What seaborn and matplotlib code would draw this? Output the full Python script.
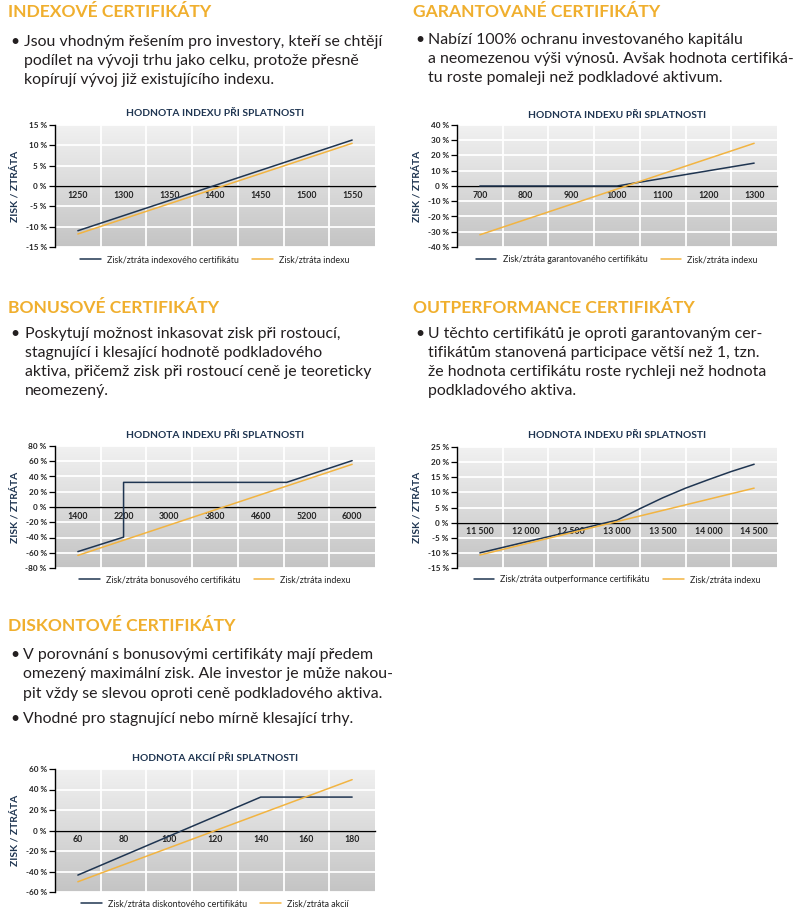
import numpy as np
import pandas as pd
import matplotlib
matplotlib.use("Agg")
import matplotlib.pyplot as plt
import seaborn as sns
from matplotlib.colors import LinearSegmentedColormap

sns.set_style("white")
plt.rcParams['font.family'] = ['Lato', 'DejaVu Sans']

W, H = 798, 913
NAVY = "#1f3551"
ORANGE = "#f2b441"
HEAD = "#f0af2e"
TEXT = "#231f20"

# ---------------- data ----------------
# 1 Indexové certifikáty
idx_ticks = [1250, 1300, 1350, 1400, 1450, 1500, 1550]
idx_yticks = [-15, -10, -5, 0, 5, 10, 15]
idx_cert_x = [1250, 1550]
idx_cert_y = [-11.0, 11.3]
idx_index_x = [1250, 1550]
idx_index_y = [-11.8, 10.5]

# 2 Garantované certifikáty
gar_ticks = [700, 800, 900, 1000, 1100, 1200, 1300]
gar_yticks = [-40, -30, -20, -10, 0, 10, 20, 30, 40]
gar_cert_x = [700, 1000, 1300]
gar_cert_y = [0.0, 0.0, 15.0]
gar_index_x = [700, 1300]
gar_index_y = [-32.0, 28.0]

# 3 Bonusové certifikáty
bon_ticks = [1400, 2200, 3000, 3800, 4600, 5200, 6000]
bon_yticks = [-80, -60, -40, -20, 0, 20, 40, 60, 80]
bon_cert_x = [1400, 2200, 2200, 4940, 6000]
bon_cert_y = [-58.5, -39.5, 32.3, 32.3, 60.8]
bon_index_x = [1400, 6000]
bon_index_y = [-63.5, 56.0]

# 4 Outperformance certifikáty
out_ticks = [11500, 12000, 12500, 13000, 13500, 14000, 14500]
out_yticks = [-15, -10, -5, 0, 5, 10, 15, 20, 25]
out_cert_x = [11500, 12000, 12500, 12800, 13000, 13250, 13500, 13750,
              14000, 14250, 14500]
out_cert_y = [-10.0, -6.4, -2.9, -0.6, 0.8, 4.6, 8.2, 11.4, 14.2, 16.9, 19.3]
out_index_x = [11500, 14500]
out_index_y = [-10.7, 11.4]

# 5 Diskontové certifikáty
dis_ticks = [60, 80, 100, 120, 140, 160, 180]
dis_yticks = [-60, -40, -20, 0, 20, 40, 60]
dis_cert_x = [60, 140, 180]
dis_cert_y = [-43.5, 32.6, 32.6]
dis_index_x = [60, 180]
dis_index_y = [-50.0, 49.6]

# ---------------- figure ----------------
fig = plt.figure(figsize=(W / 100, H / 100), dpi=100)
fig.patch.set_facecolor("white")

bg_cmap = LinearSegmentedColormap.from_list("bg", ["#f1f1f1", "#c4c4c4"])


def fx(x):
    return x / W


def fy(y):
    return 1 - y / H


def tick_label(v):
    if v >= 10000:
        return f"{v:,}".replace(",", " ")
    return str(v)


def draw_chart(left, top, bottom, ticks, yticks, cx, cy, ix, iy,
               title, title_y, cert_label, ind_label, legend_y, ylab_x):
    width = 320
    ax = fig.add_axes([fx(left), fy(bottom), fx(width), (bottom - top) / H])
    n = len(ticks)
    pos_c = np.interp(cx, ticks, np.arange(n))
    pos_i = np.interp(ix, ticks, np.arange(n))
    df = pd.DataFrame({
        "pos": np.concatenate([pos_c, pos_i]),
        "val": np.concatenate([cy, iy]),
        "series": [cert_label] * len(cx) + [ind_label] * len(ix),
    })
    ax.imshow(np.linspace(0, 1, 256).reshape(-1, 1), cmap=bg_cmap,
              aspect="auto", extent=[0, 1, 0, 1], transform=ax.transAxes,
              zorder=0, interpolation="bicubic")
    sns.lineplot(data=df, x="pos", y="val", hue="series",
                 hue_order=[cert_label, ind_label],
                 palette=[NAVY, ORANGE], sort=False, estimator=None,
                 linewidth=1.1, ax=ax, zorder=3)
    ax.set_xlim(-0.5, n - 0.5)
    ax.set_ylim(min(yticks), max(yticks))
    ax.set_xlabel("")
    ax.set_ylabel("")
    ax.spines["bottom"].set_position(("data", 0))
    ax.spines["bottom"].set_color("black")
    ax.spines["bottom"].set_linewidth(1.0)
    ax.spines["left"].set_color("black")
    ax.spines["left"].set_linewidth(1.0)
    ax.spines["top"].set_visible(False)
    ax.spines["right"].set_visible(False)
    ax.set_xticks(np.arange(n))
    ax.set_xticklabels([tick_label(t) for t in ticks], fontsize=6.3,
                       fontweight="bold", color="#222222")
    ax.set_xticks(np.arange(0.5, n - 1, 1), minor=True)
    ax.tick_params(axis="x", which="both", length=0, pad=3.5)
    ax.set_yticks(yticks)
    ax.set_yticklabels([f"{v} %" for v in yticks], fontsize=5.9,
                       fontweight="bold", color="#222222")
    ax.tick_params(axis="y", length=4, width=0.9, color="black", pad=2,
                   left=True)
    ax.grid(False)
    ax.grid(which="minor", axis="x", color="white", linewidth=1.3)
    ax.grid(which="major", axis="y", color="white", linewidth=1.3)
    ax.set_axisbelow(True)
    fig.text(fx(left + width / 2), fy(title_y), title, ha="center",
             va="center", fontsize=7.4, color=NAVY, fontweight="bold")
    fig.text(fx(ylab_x), fy((top + bottom) / 2), "ZISK / ZTRÁTA",
             rotation=90, ha="center", va="center", fontsize=7.4,
             color=NAVY, fontweight="bold")
    handles, labels = ax.get_legend_handles_labels()
    if ax.get_legend() is not None:
        ax.get_legend().remove()
    leg = ax.legend(handles, labels, loc="center", ncol=2,
                    bbox_to_anchor=(fx(left + width / 2), fy(legend_y)),
                    bbox_transform=fig.transFigure, frameon=False,
                    fontsize=6.4, handlelength=2.3, handletextpad=0.7,
                    columnspacing=1.5)
    for t in leg.get_texts():
        t.set_color("#222222")
    return ax


draw_chart(55, 125, 247, idx_ticks, idx_yticks, idx_cert_x, idx_cert_y,
           idx_index_x, idx_index_y, "HODNOTA INDEXU PŘI SPLATNOSTI", 114,
           "Zisk/ztráta indexového certifikátu", "Zisk/ztráta indexu", 260, 15)
draw_chart(457, 125, 247, gar_ticks, gar_yticks, gar_cert_x, gar_cert_y,
           gar_index_x, gar_index_y, "HODNOTA INDEXU PŘI SPLATNOSTI", 115,
           "Zisk/ztráta garantovaného certifikátu", "Zisk/ztráta indexu", 260, 417)
draw_chart(55, 446, 568, bon_ticks, bon_yticks, bon_cert_x, bon_cert_y,
           bon_index_x, bon_index_y, "HODNOTA INDEXU PŘI SPLATNOSTI", 435,
           "Zisk/ztráta bonusového certifikátu", "Zisk/ztráta indexu", 580, 15)
draw_chart(457, 447, 568, out_ticks, out_yticks, out_cert_x, out_cert_y,
           out_index_x, out_index_y, "HODNOTA INDEXU PŘI SPLATNOSTI", 435,
           "Zisk/ztráta outperformance certifikátu", "Zisk/ztráta indexu", 580, 417)
draw_chart(55, 769, 892, dis_ticks, dis_yticks, dis_cert_x, dis_cert_y,
           dis_index_x, dis_index_y, "HODNOTA AKCIÍ PŘI SPLATNOSTI", 758,
           "Zisk/ztráta diskontového certifikátu", "Zisk/ztráta akcií", 904, 15)

# ---------------- text blocks ----------------
HEAD_SIZE = 12.6
BODY_SIZE = 11.4


def heading(x, y, s):
    fig.text(fx(x), fy(y), s, ha="left", va="baseline", fontsize=HEAD_SIZE,
             color=HEAD, fontweight="bold")


def body(xb, xt, ys, lines, bullets):
    for y, line, b in zip(ys, lines, bullets):
        if b:
            fig.text(fx(xb), fy(y), "•", ha="left", va="baseline",
                     fontsize=BODY_SIZE, color=TEXT)
        fig.text(fx(xt), fy(y), line, ha="left", va="baseline",
                 fontsize=BODY_SIZE, color=TEXT)


heading(8, 17, "INDEXOVÉ CERTIFIKÁTY")
body(10, 24, [46, 65, 84],
     ["Jsou vhodným řešením pro investory, kteří se chtějí",
      "podílet na vývoji trhu jako celku, protože přesně",
      "kopírují vývoj již existujícího indexu."],
     [True, False, False])

heading(413, 17, "GARANTOVANÉ CERTIFIKÁTY")
body(415, 428, [44, 63, 82],
     ["Nabízí 100% ochranu investovaného kapitálu",
      "a neomezenou výši výnosů. Avšak hodnota certifiká-",
      "tu roste pomaleji než podkladové aktivum."],
     [True, False, False])

heading(8, 313, "BONUSOVÉ CERTIFIKÁTY")
body(10, 25, [338, 357, 376, 395],
     ["Poskytují možnost inkasovat zisk při rostoucí,",
      "stagnující i klesající hodnotě podkladového",
      "aktiva, přičemž zisk při rostoucí ceně je teoreticky",
      "neomezený."],
     [True, False, False, False])

heading(413, 313, "OUTPERFORMANCE CERTIFIKÁTY")
body(415, 428, [338, 357, 376, 395],
     ["U těchto certifikátů je oproti garantovaným cer-",
      "tifikátům stanovená participace větší než 1, tzn.",
      "že hodnota certifikátu roste rychleji než hodnota",
      "podkladového aktiva."],
     [True, False, False, False])

heading(8, 631, "DISKONTOVÉ CERTIFIKÁTY")
body(10, 23, [659, 678, 698, 723],
     ["V porovnání s bonusovými certifikáty mají předem",
      "omezený maximální zisk. Ale investor je může nakou-",
      "pit vždy se slevou oproti ceně podkladového aktiva.",
      "Vhodné pro stagnující nebo mírně klesající trhy."],
     [True, False, False, True])

fig.savefig("out.png", dpi=100, facecolor="white")
